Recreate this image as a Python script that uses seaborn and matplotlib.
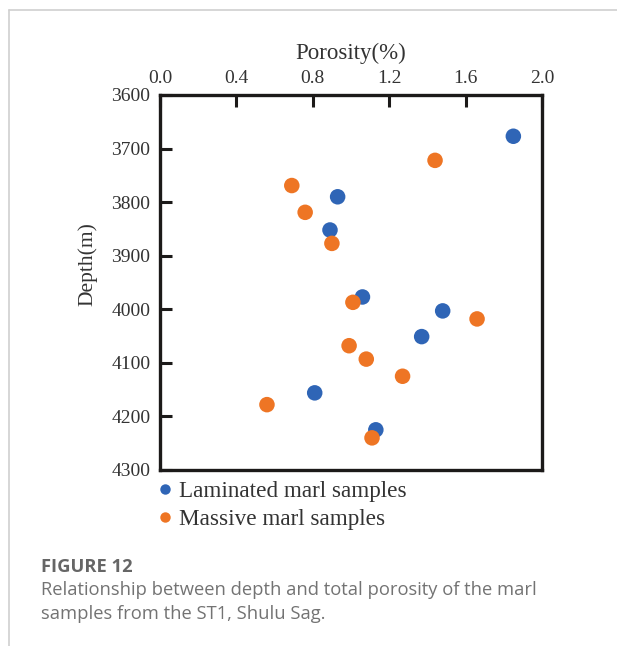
import matplotlib
matplotlib.use("Agg")
import matplotlib.pyplot as plt
from matplotlib.lines import Line2D
import seaborn as sns
import pandas as pd

# Laminated marl samples: porosity (%) and depth (m)
laminated_porosity = [1.85, 0.93, 0.89, 1.06, 1.48, 1.37, 0.81, 1.13]
laminated_depth = [3677, 3790, 3852, 3977, 4003, 4051, 4156, 4225]

# Massive marl samples: porosity (%) and depth (m)
massive_porosity = [1.44, 0.69, 0.76, 0.90, 1.01, 1.66, 0.99, 1.08, 1.27, 0.56, 1.11]
massive_depth = [3722, 3769, 3819, 3877, 3987, 4018, 4068, 4093, 4125, 4178, 4240]

series_names = ["Laminated marl samples", "Massive marl samples"]
series_colors = ["#2F65B6", "#EE7524"]

x_ticks = [0.0, 0.4, 0.8, 1.2, 1.6, 2.0]
y_ticks = [3600, 3700, 3800, 3900, 4000, 4100, 4200, 4300]

df = pd.concat([
    pd.DataFrame({"Porosity": laminated_porosity, "Depth": laminated_depth,
                  "Sample": series_names[0]}),
    pd.DataFrame({"Porosity": massive_porosity, "Depth": massive_depth,
                  "Sample": series_names[1]}),
], ignore_index=True)

sns.set_style("white")
plt.rcParams["font.family"] = ["Liberation Serif", "DejaVu Serif"]

W, H = 617, 646
fig = plt.figure(figsize=(W / 100, H / 100), dpi=100)
ax = fig.add_axes([160 / W, 1 - 470 / H, 382 / W, 375 / H])

sns.scatterplot(data=df, x="Porosity", y="Depth", hue="Sample",
                hue_order=series_names, palette=series_colors,
                s=125, edgecolor="none", linewidth=0, ax=ax, legend=False,
                zorder=3)

ink = "#1c1a19"
label_col = "#333333"
ax.set_xlim(0, 2.0)
ax.set_ylim(4300, 3600)
ax.set_xticks(x_ticks)
ax.set_yticks(y_ticks)
ax.set_xticklabels([f"{v:.1f}" for v in x_ticks])
ax.set_yticklabels([str(v) for v in y_ticks])
ax.xaxis.tick_top()
ax.xaxis.set_label_position("top")
ax.tick_params(axis="x", direction="in", length=8.5, width=2.2, color=ink,
               labelsize=14, labelcolor=label_col, pad=6, bottom=False, top=True)
ax.tick_params(axis="y", direction="in", length=8.5, width=2.2, color=ink,
               labelsize=14, labelcolor=label_col, pad=7, right=False, left=True)
for sp in ax.spines.values():
    sp.set_color(ink)
    sp.set_linewidth(2.4)
    sp.set_visible(True)

ax.set_xlabel("Porosity(%)", fontsize=16.5, color=label_col, labelpad=8)
ax.set_ylabel("Depth(m)", fontsize=15.5, color=label_col)
ax.yaxis.set_label_coords(-0.165, 0.55)

# Legend below the plot
handles = [Line2D([0], [0], marker="o", linestyle="none", markersize=7.5,
                  markerfacecolor=c, markeredgecolor="none") for c in series_colors]
fig.legend(handles, series_names, loc="upper left",
           bbox_to_anchor=(158 / W, 1 - 481 / H), frameon=False,
           fontsize=16.7, handlelength=0.6, handletextpad=0.3,
           labelspacing=0.3, borderpad=0, borderaxespad=0,
           labelcolor=label_col)

# Caption
cap_font = ["Open Sans", "DejaVu Sans"]
fig.text(41 / W, 1 - 572 / H, "FIGURE 12", family=cap_font, fontsize=13.2,
         fontweight="bold", color="#666666", va="baseline")
fig.text(41 / W, 1 - 595 / H,
         "Relationship between depth and total porosity of the marl",
         family=cap_font, fontsize=13.2, color="#737373", va="baseline")
fig.text(41 / W, 1 - 619 / H, "samples from the ST1, Shulu Sag.",
         family=cap_font, fontsize=13.2, color="#737373", va="baseline")

# Panel frame lines (top and left edges)
frame_col = "#cfcfcf"
fig.add_artist(Line2D([9 / W, 1.0], [1 - 10 / H, 1 - 10 / H],
                      transform=fig.transFigure, color=frame_col, linewidth=1.2))
fig.add_artist(Line2D([9 / W, 9 / W], [1 - 10 / H, 0.0],
                      transform=fig.transFigure, color=frame_col, linewidth=1.2))

fig.savefig("out.png", dpi=100)
